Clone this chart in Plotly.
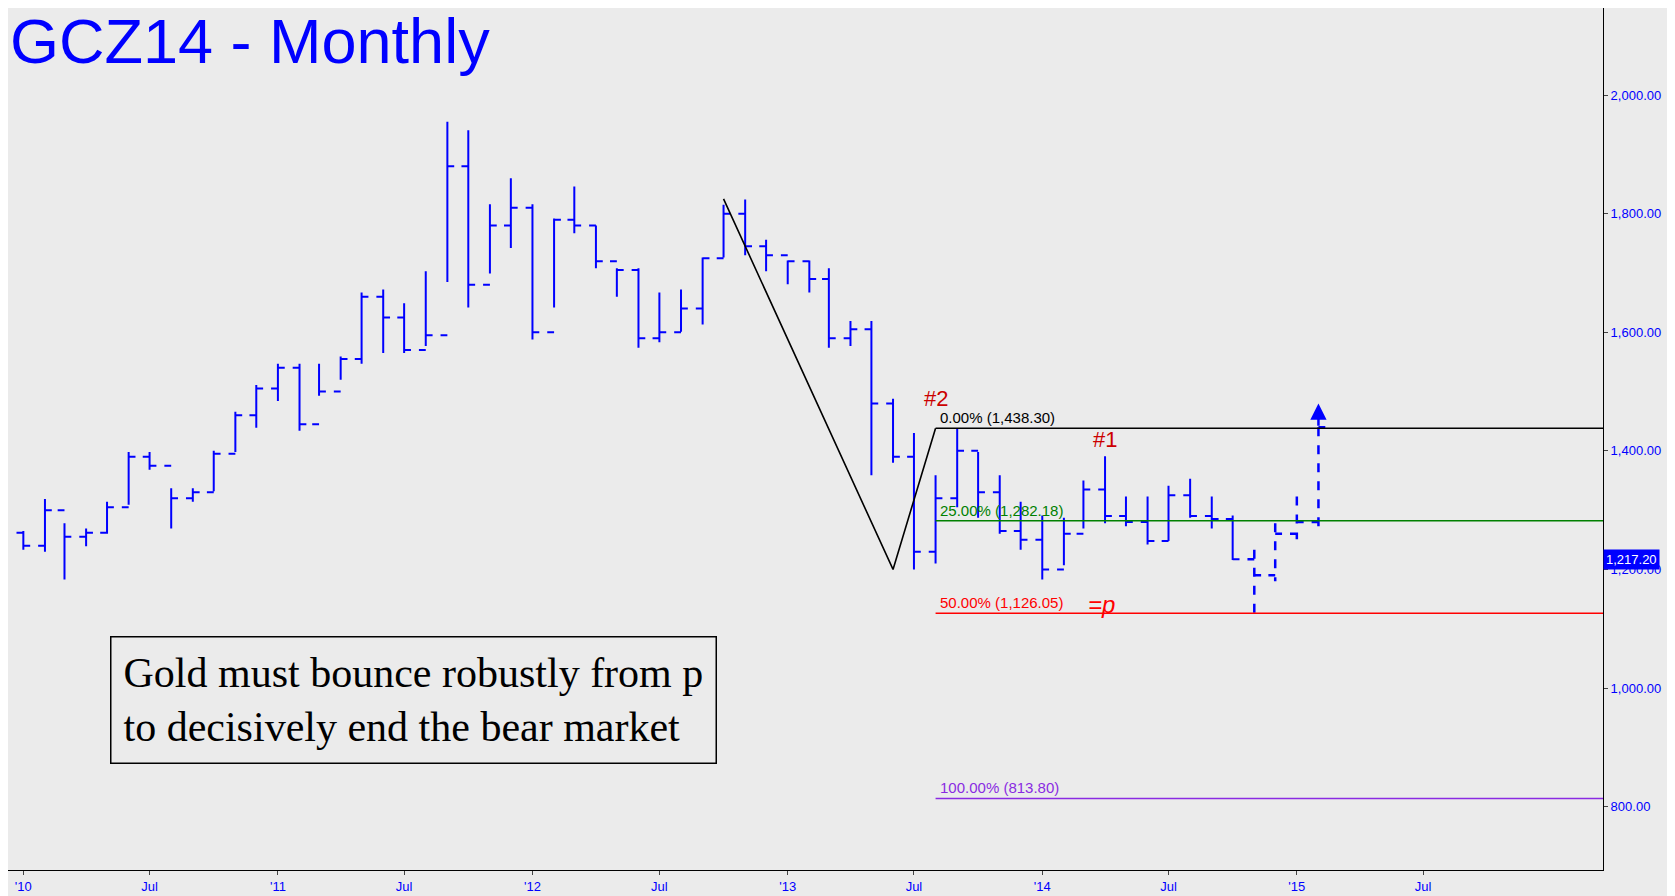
import pandas as pd
import plotly.graph_objects as go

# monthly bars, Jan 2010 onward
highs = [1265, 1319, 1278, 1269, 1314, 1398, 1398, 1337, 1337, 1400, 1466, 1511,
         1547, 1547, 1547, 1559, 1667, 1672, 1649, 1703, 1955, 1941, 1816, 1860,
         1816, 1792, 1846, 1780, 1708, 1708, 1667, 1672, 1726, 1815, 1824, 1756,
         1721, 1721, 1708, 1619, 1619, 1488, 1430, 1359, 1438, 1398, 1359, 1314,
         1291, 1287, 1350, 1391, 1323, 1323, 1341, 1353, 1323, 1291]
lows = [1233, 1230, 1183, 1239, 1260, 1309, 1368, 1269, 1314, 1332, 1398, 1439,
        1484, 1434, 1493, 1520, 1547, 1565, 1565, 1577, 1685, 1642, 1699, 1742,
        1588, 1642, 1767, 1708, 1660, 1574, 1583, 1601, 1613, 1726, 1730, 1703,
        1681, 1667, 1574, 1577, 1359, 1380, 1200, 1210, 1305, 1287, 1260, 1233,
        1183, 1207, 1269, 1278, 1273, 1242, 1248, 1287, 1269, 1216]
closes = [1240, 1300, 1255, 1262, 1305, 1390, 1375, 1320, 1330, 1395, 1460, 1505,
          1540, 1445, 1500, 1555, 1660, 1625, 1570, 1595, 1880, 1680, 1780, 1810,
          1600, 1790, 1780, 1720, 1705, 1590, 1600, 1640, 1725, 1800, 1745, 1730,
          1720, 1690, 1590, 1605, 1480, 1390, 1230, 1320, 1400, 1330, 1265, 1250,
          1200, 1260, 1335, 1290, 1280, 1248, 1325, 1290, 1285, 1217.2]
opens = [1262] + closes[:-1]

# projected path (dashed)
proj_high = [1233, 1278, 1323, 1440]
proj_low = [1126, 1180, 1251, 1273]
proj_open = [1217, 1190, 1260, 1280]
proj_close = [1190, 1260, 1280, 1440]

fib_levels = [1438.30, 1282.18, 1126.05, 813.80]
fib_names = ["0.00%", "25.00%", "50.00%", "100.00%"]
fib_colors = ["black", "green", "red", "#8a2be2"]

dates = pd.date_range("2010-01-01", periods=len(highs), freq="MS")
proj_dates = pd.date_range(dates[-1] + pd.DateOffset(months=1), periods=len(proj_high), freq="MS")

zig_x = ["2012-10-01", "2013-06-01", "2013-08-01"]
zig_y = [1825, 1200, 1438.3]

tick_vals = []
tick_text = []
for yr in range(2010, 2016):
    tick_vals += [f"{yr}-01-01", f"{yr}-07-01"]
    tick_text += [f"'{str(yr)[2:]}", "Jul"]

fig = go.Figure()
fig.add_trace(go.Ohlc(x=dates, open=opens, high=highs, low=lows, close=closes,
                      increasing_line_color="blue", decreasing_line_color="blue",
                      line_width=2, tickwidth=0.35, showlegend=False, hoverinfo="skip"))
fig.add_trace(go.Ohlc(x=proj_dates, open=proj_open, high=proj_high, low=proj_low, close=proj_close,
                      increasing=dict(line=dict(color="blue", dash="dash", width=2.5)),
                      decreasing=dict(line=dict(color="blue", dash="dash", width=2.5)),
                      tickwidth=0.35, showlegend=False, hoverinfo="skip"))
fig.add_trace(go.Scatter(x=zig_x, y=zig_y, mode="lines", line=dict(color="black", width=1.6),
                         showlegend=False, hoverinfo="skip"))

for lvl, name, col in zip(fib_levels, fib_names, fib_colors):
    fig.add_shape(type="line", xref="x", yref="y", x0="2013-08-01", x1="2016-06-01",
                  y0=lvl, y1=lvl, line=dict(color=col, width=1.5))
    fig.add_annotation(x="2013-08-01", y=lvl, text=f"{name} ({lvl:,.2f})", showarrow=False,
                       xanchor="left", yanchor="bottom", xshift=2,
                       font=dict(family="Arial", size=15, color=col))
fig.add_annotation(x="2014-03-05", y=1126.05, text="<i>=p</i>", showarrow=False, xanchor="left",
                   yanchor="bottom", yshift=-7, font=dict(family="Arial", size=24, color="red"))

fig.add_annotation(x="2013-08-01", y=1440, text="#2", showarrow=False, yanchor="bottom", yshift=14,
                   font=dict(family="Arial", size=22, color="#cc0000"))
fig.add_annotation(x="2014-04-01", y=1395, text="#1", showarrow=False, yanchor="bottom",
                   font=dict(family="Arial", size=22, color="#cc0000"))
fig.add_annotation(x=proj_dates[-1], y=1480, ax=proj_dates[-1], ay=1440, xref="x", yref="y",
                   axref="x", ayref="y", showarrow=True, arrowhead=2, arrowsize=1.3,
                   arrowwidth=2.5, arrowcolor="blue", text="")

fig.add_annotation(xref="paper", yref="paper", x=0, y=1.005, xanchor="left", yanchor="top",
                   text="GCZ14 - Monthly", showarrow=False,
                   font=dict(family="Arial", size=63, color="blue"))
fig.add_annotation(xref="paper", x=0.254, xanchor="center", y=980, yref="y", showarrow=False,
                   text="Gold must bounce robustly from p<br>to decisively end the bear market",
                   align="left", bordercolor="black", borderwidth=1.5, borderpad=12,
                   bgcolor="#ebebeb", font=dict(family="Liberation Serif", size=42, color="black"))
fig.add_annotation(xref="paper", x=1.0, y=1217.2, yref="y", xanchor="left", showarrow=False,
                   text="1,217.20", bgcolor="blue", font=dict(family="Arial", size=13, color="white"),
                   borderpad=2)

fig.update_layout(
    width=1675, height=896, plot_bgcolor="#ebebeb", paper_bgcolor="#ebebeb",
    margin=dict(l=0, r=80, t=0, b=34),
    xaxis=dict(type="date", range=["2009-12-10", "2016-03-15"], rangeslider=dict(visible=False),
               tickvals=tick_vals, ticktext=tick_text, showgrid=False, zeroline=False,
               showline=True, linecolor="black", ticks="outside", ticklen=4,
               tickfont=dict(family="Arial", size=13, color="blue")),
    yaxis=dict(side="right", range=[693, 2147], tickvals=[800, 1000, 1200, 1400, 1600, 1800, 2000],
               tickformat=",.2f", showgrid=False, zeroline=False, showline=True, linecolor="black",
               ticks="outside", ticklen=4, tickfont=dict(family="Arial", size=13, color="blue")),
)

fig.write_html("out.html")
